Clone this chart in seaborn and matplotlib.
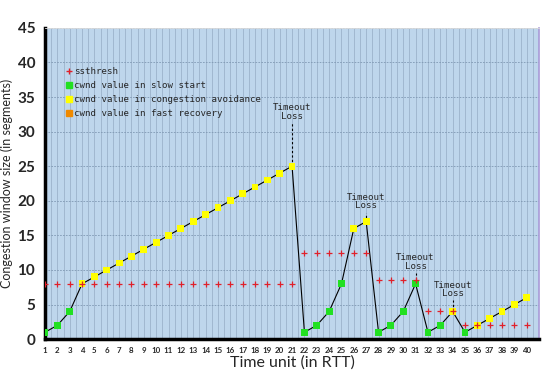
import matplotlib
matplotlib.use('Agg')
import matplotlib.pyplot as plt
import matplotlib.transforms as mtransforms
from matplotlib.lines import Line2D
import seaborn as sns
import pandas as pd

# data
rtt = list(range(1, 41))
cwnd = [1, 2, 4, 8, 9, 10, 11, 12, 13, 14, 15, 16, 17, 18, 19, 20, 21, 22, 23, 24, 25,
        1, 2, 4, 8, 16, 17,
        1, 2, 4, 8,
        1, 2, 4,
        1, 2, 3, 4, 5, 6]
phase = ['ss', 'ss', 'ss'] + ['ca'] * 18 + \
        ['ss', 'ss', 'ss', 'ss', 'ca', 'ca'] + \
        ['ss', 'ss', 'ss', 'ss'] + \
        ['ss', 'ss', 'ca'] + \
        ['ss', 'ca', 'ca', 'ca', 'ca', 'ca']
ssthresh = [8, 8, 8, 8, 8, 8, 8, 8, 8, 8, 8, 8, 8, 8, 8, 8, 8, 8, 8, 8, 8,
            12.5, 12.5, 12.5, 12.5, 12.5, 12.5,
            8.5, 8.5, 8.5, 8.5,
            4, 4, 4,
            2, 2, 2, 2, 2, 2]
loss_x = [21, 27, 31, 34]
loss_text_y = [31.6, 18.6, 9.9, 5.9]
yticks = [0, 5, 10, 15, 20, 25, 30, 35, 40, 45]

df = pd.DataFrame({'rtt': rtt, 'cwnd': cwnd, 'phase': phase, 'ssthresh': ssthresh})

bg = '#bed6ec'
grid_c = '#9cb3cb'
green = '#22e022'
yellow = '#ffff00'
orange = '#f08a00'
mono = 'DejaVu Sans Mono'

sns.set_style('white')
plt.rcParams['font.family'] = ['Lato', 'DejaVu Sans']
fig = plt.figure(figsize=(5.49, 3.76), dpi=100)
ax = fig.add_axes([0.082, 0.098, 0.9, 0.828])
ax.set_facecolor(bg)

sns.lineplot(data=df, x='rtt', y='cwnd', color='black', lw=0.8, ax=ax, zorder=3)
sns.scatterplot(data=df, x='rtt', y='cwnd', hue='phase',
                palette={'ss': green, 'ca': yellow}, marker='s', s=24,
                edgecolor='none', legend=False, ax=ax, zorder=4)
sns.scatterplot(data=df, x='rtt', y='ssthresh', color='#e0202a', marker='+',
                s=24, linewidth=0.9, legend=False, ax=ax, zorder=5)

for lx, ty in zip(loss_x, loss_text_y):
    top = df.loc[df.rtt == lx, 'cwnd'].iloc[0]
    ax.plot([lx, lx], [top, ty - 0.3], ls=(0, (2, 2)), color='black', lw=0.8, zorder=2)
    ax.text(lx, ty, 'Timeout\nLoss', ha='center', va='bottom', family=mono,
            fontsize=6.6, linespacing=0.95, zorder=6)

ax.set_xlim(1, 41)
ax.set_ylim(0, 45)
ax.set_yticks(yticks, labels=[str(v) for v in yticks], fontsize=11, fontweight='bold')
ax.set_xticks(rtt, labels=[str(r) for r in rtt], fontsize=5.7, fontweight='bold')
ax.set_xticks([r + 0.5 for r in rtt], minor=True)
offset = mtransforms.ScaledTranslation(4 / 100, 0, fig.dpi_scale_trans)
for lab in ax.get_xticklabels():
    lab.set_transform(lab.get_transform() + offset)

ax.grid(axis='x', which='both', color=grid_c, lw=0.6)
ax.grid(axis='y', which='major', color='#7f98b3', lw=0.6, ls=(0, (2, 1.5)))
ax.set_axisbelow(True)
ax.tick_params(axis='x', which='major', length=3, width=1.5, pad=3, color='black')
ax.tick_params(axis='x', which='minor', length=0)
ax.tick_params(axis='y', length=4, width=1.5, pad=3)

for side in ['left', 'bottom']:
    ax.spines[side].set_linewidth(2.5)
    ax.spines[side].set_color('black')
ax.spines['top'].set_color('#dddddd')
ax.spines['top'].set_linewidth(0.6)
ax.spines['right'].set_color('#a99ad8')
ax.spines['right'].set_linewidth(1.2)

ax.set_xlabel('Time unit (in RTT)', fontsize=11.5, labelpad=1)
ax.set_ylabel('Congestion window size (in segments)', fontsize=9, labelpad=3)

handles = [
    Line2D([], [], ls='none', marker='+', color='#e0202a', ms=5, mew=1),
    Line2D([], [], ls='none', marker='s', color=green, ms=4.5),
    Line2D([], [], ls='none', marker='s', color=yellow, ms=4.5),
    Line2D([], [], ls='none', marker='s', color=orange, ms=4.5),
]
labels = ['ssthresh', 'cwnd value in slow start',
          'cwnd value in congestion avoidance', 'cwnd value in fast recovery']
ax.legend(handles, labels, loc='upper left', bbox_to_anchor=(0.035, 0.885),
          frameon=False, prop={'family': mono, 'size': 6.6}, handlelength=0.6,
          handletextpad=0.3, labelspacing=0.55, borderaxespad=0)

fig.savefig('out.png', dpi=100)
